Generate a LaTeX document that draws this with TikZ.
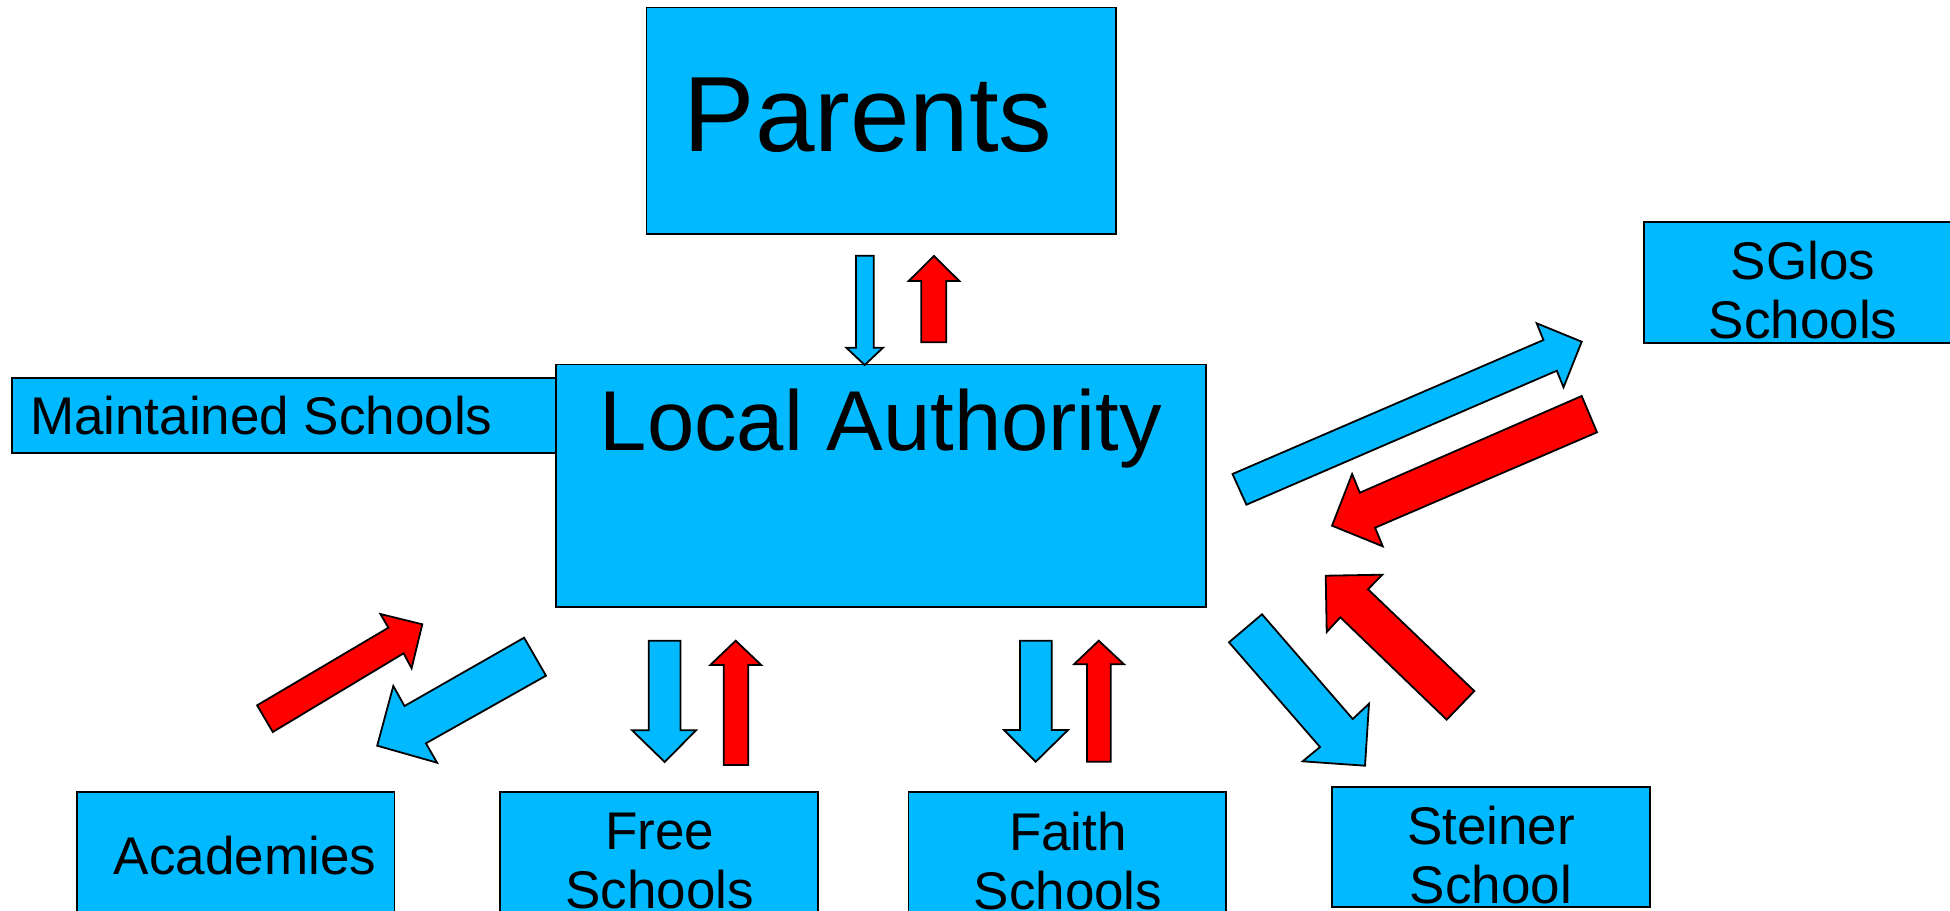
\documentclass[tikz,border=0pt]{standalone}
\usepackage{fontspec}
\setmainfont{Liberation Sans}
\definecolor{boxblue}{RGB}{0,185,255}
\definecolor{arrred}{RGB}{255,0,0}
\begin{document}
\begin{tikzpicture}[x=1pt,y=-1pt,
  box/.style={draw=black,line width=1.8pt,fill=boxblue,inner sep=0pt,outer sep=0pt,anchor=north west},
  lbl/.style={inner sep=0pt,outer sep=0pt,anchor=base,text=black,font=\fontsize{53}{59}\selectfont},
  bluearr/.style={draw=black,line width=1.8pt,fill=boxblue,line join=miter},
  redarr/.style={draw=black,line width=1.8pt,fill=arrred,line join=miter}]
\useasboundingbox (0,0) rectangle (1950,910);
\clip (0,0) rectangle (1950,910);
% boxes
\node[box,minimum width=469.5pt,minimum height=226.3pt] (parents) at (646.5,7.5) {};
\node[box,minimum width=544pt,minimum height=74.4pt] (maintained) at (12,378.3) {};
\node[box,minimum width=650.3pt,minimum height=242.3pt] (la) at (556,364.5) {};
\node[box,minimum width=318pt,minimum height=121pt] (sglos) at (1644,221.7) {};
\node[box,minimum width=317.4pt,minimum height=128pt] (acad) at (77,792) {};
\node[box,minimum width=318pt,minimum height=128pt] (free) at (500,792) {};
\node[box,minimum width=317.4pt,minimum height=128pt] (faith) at (908.4,792) {};
\node[box,minimum width=317.9pt,minimum height=120.6pt] (steiner) at (1331.7,786.7) {};
% texts
\node[lbl,font=\fontsize{107}{120}\selectfont] (parentsT) at (868,151.7) {Parents};
\node[lbl,font=\fontsize{85}{100}\selectfont] (laT) at (881,450.7) {Local Authority};
\node[lbl,anchor=base west] (maintainedT) at (30,434.3) {Maintained Schools};
\node[lbl] (sglosT1) at (1803,279) {SGlos};
\node[lbl] (sglosT2) at (1803,338) {Schools};
\node[lbl] (acadT) at (245,874) {Academies};
\node[lbl] (freeT1) at (659.5,849) {Free};
\node[lbl] (freeT2) at (659.5,908) {Schools};
\node[lbl] (faithT1) at (1068,850) {Faith};
\node[lbl] (faithT2) at (1068,909) {Schools};
\node[lbl] (steinerT1) at (1491,844) {Steiner};
\node[lbl] (steinerT2) at (1491,903) {School};
% Parents <-> Local Authority
\draw[bluearr] (856,255.7) -- (873.7,255.7) -- (873.7,347.7) -- (883,347.7) -- (864.7,365) -- (846.3,347.7) -- (856,347.7) -- cycle;
\draw[redarr] (921.3,342.3) -- (946.3,342.3) -- (946.3,281) -- (959.3,281) -- (934,256) -- (908.7,281) -- (921.3,281) -- cycle;
% SGlos
\draw[bluearr] (1232.5,474.0) -- (1543.4,340.0) -- (1536.7,323.3) -- (1581.7,341.7) -- (1563.5,387.3) -- (1556.8,370.7) -- (1246.4,504.7) -- cycle;
\draw[redarr] (1581.7,396.0) -- (1597.0,432.3) -- (1375.1,527.7) -- (1382.7,546.3) -- (1332.0,525.7) -- (1352.1,474.0) -- (1359.8,492.7) -- cycle;
% Academies
\draw[redarr] (257.1,705.3) -- (388.4,627.7) -- (380.4,614.0) -- (422.3,624.3) -- (411.6,668.3) -- (403.6,653.3) -- (272.8,732.0) -- cycle;
\draw[bluearr] (524.1,637.7) -- (546.0,675.7) -- (425.9,743.3) -- (437.1,762.7) -- (377.2,745.7) -- (393.3,686.0) -- (404.5,706.0) -- cycle;
% Free Schools
\draw[bluearr] (648.7,640.7) -- (680.4,640.7) -- (680.4,730.3) -- (696.0,730.3) -- (664.7,762) -- (632.1,730.3) -- (648.7,730.3) -- cycle;
\draw[redarr] (723.7,765) -- (748.2,765) -- (748.2,665) -- (761.2,665) -- (735.7,640.7) -- (710.3,665) -- (723.7,665) -- cycle;
% Faith Schools
\draw[bluearr] (1020,640.7) -- (1051.7,640.7) -- (1051.7,730) -- (1068,730) -- (1035.7,761.7) -- (1004,730) -- (1020,730) -- cycle;
\draw[redarr] (1087,761.7) -- (1110.7,761.7) -- (1110.7,664.3) -- (1124,664.3) -- (1098.7,640.7) -- (1074,664.3) -- (1087,664.3) -- cycle;
% Steiner School
\draw[bluearr] (1262,614.3) -- (1229,642.3) -- (1320,747) -- (1302.7,761.3) -- (1365,765.7) -- (1369,703.7) -- (1352.7,719) -- cycle;
\draw[redarr] (1474.3,691) -- (1446.7,719.7) -- (1340.3,617.3) -- (1326.7,632) -- (1325.7,575.7) -- (1382.3,574.7) -- (1368,589.3) -- cycle;
\end{tikzpicture}
\end{document}
